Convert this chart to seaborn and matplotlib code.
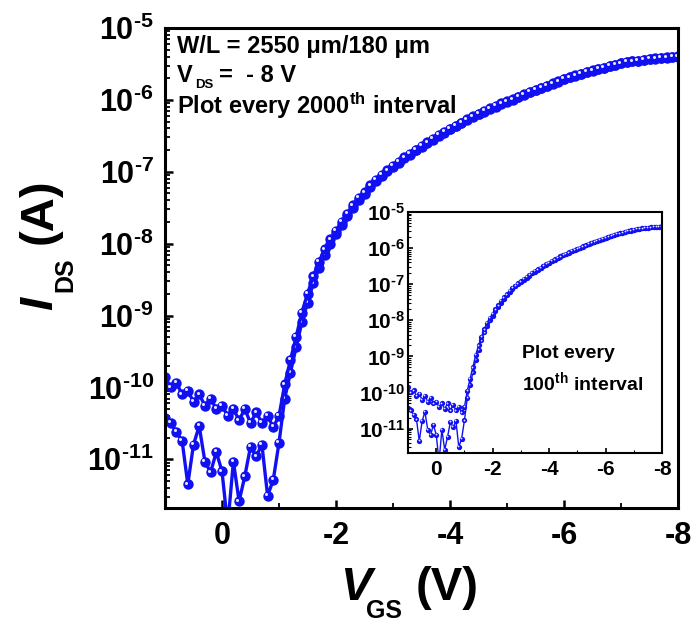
import matplotlib
matplotlib.use("Agg")
import matplotlib.pyplot as plt
from matplotlib import transforms, ticker
import numpy as np
import pandas as pd
import seaborn as sns

# ---------------- data ----------------
v_gs = [1.0, 0.9, 0.8, 0.7, 0.6, 0.5, 0.4, 0.3, 0.2, 0.1,
        0.0, -0.1, -0.2, -0.3, -0.4, -0.5, -0.6, -0.7, -0.8, -0.9,
        -1.0, -1.1, -1.2, -1.3, -1.4, -1.5, -1.6, -1.7, -1.8, -1.9,
        -2.0, -2.1, -2.2, -2.3, -2.4, -2.5, -2.6, -2.7, -2.8, -2.9,
        -3.0, -3.1, -3.2, -3.3, -3.4, -3.5, -3.6, -3.7, -3.8, -3.9,
        -4.0, -4.1, -4.2, -4.3, -4.4, -4.5, -4.6, -4.7, -4.8, -4.9,
        -5.0, -5.1, -5.2, -5.3, -5.4, -5.5, -5.6, -5.7, -5.8, -5.9,
        -6.0, -6.1, -6.2, -6.3, -6.4, -6.5, -6.6, -6.7, -6.8, -6.9,
        -7.0, -7.1, -7.2, -7.3, -7.4, -7.5, -7.6, -7.7, -7.8, -7.9,
        -8.0]

i_ds_fwd = [1.4e-10, 1.0e-10, 1.15e-10, 8.0e-11, 9.0e-11, 6.3e-11, 8.0e-11, 5.6e-11, 7.0e-11, 5.0e-11,
            5.6e-11, 4.0e-11, 5.0e-11, 3.5e-11, 5.0e-11, 3.2e-11, 4.5e-11, 3.2e-11, 4.0e-11, 2.8e-11,
            4.0e-11, 1.1e-10, 2.4e-10, 5.0e-10, 1.1e-9, 2.0e-9, 3.5e-9, 5.6e-9, 8.3e-9, 1.15e-8,
            1.5e-8, 2.0e-8, 2.6e-8, 3.4e-8, 4.3e-8, 5.2e-8, 6.5e-8, 7.8e-8, 9.1e-8, 1.05e-7,
            1.2e-7, 1.38e-7, 1.58e-7, 1.78e-7, 2.04e-7, 2.29e-7, 2.57e-7, 2.88e-7, 3.24e-7, 3.59e-7,
            3.98e-7, 4.37e-7, 4.84e-7, 5.37e-7, 5.89e-7, 6.46e-7, 7.0e-7, 7.59e-7, 8.22e-7, 8.91e-7,
            9.55e-7, 1.02e-6, 1.11e-6, 1.2e-6, 1.29e-6, 1.38e-6, 1.48e-6, 1.58e-6, 1.7e-6, 1.82e-6,
            1.95e-6, 2.07e-6, 2.19e-6, 2.32e-6, 2.45e-6, 2.57e-6, 2.69e-6, 2.82e-6, 2.95e-6, 3.09e-6,
            3.24e-6, 3.35e-6, 3.45e-6, 3.53e-6, 3.62e-6, 3.7e-6, 3.77e-6, 3.84e-6, 3.9e-6, 3.96e-6,
            4.02e-6]

i_ds_rev = [3.8e-11, 3.2e-11, 2.4e-11, 1.8e-11, 4.5e-12, 1.6e-11, 2.9e-11, 9.3e-12, 6.6e-12, 1.26e-11,
            6.8e-12, 1.2e-12, 9.3e-12, 2.6e-12, 5.8e-12, 1.5e-11, 1.1e-11, 1.6e-11, 3.1e-12, 5.2e-12,
            1.7e-11, 7.0e-11, 1.6e-10, 3.6e-10, 8.0e-10, 1.5e-9, 2.8e-9, 4.6e-9, 7.0e-9, 1.0e-8,
            1.35e-8, 1.8e-8, 2.4e-8, 3.1e-8, 4.0e-8, 4.9e-8, 6.1e-8, 7.4e-8, 8.7e-8, 1.01e-7,
            1.16e-7, 1.33e-7, 1.53e-7, 1.73e-7, 1.98e-7, 2.23e-7, 2.5e-7, 2.8e-7, 3.15e-7, 3.5e-7,
            3.88e-7, 4.27e-7, 4.73e-7, 5.25e-7, 5.76e-7, 6.32e-7, 6.86e-7, 7.44e-7, 8.06e-7, 8.75e-7,
            9.38e-7, 1.0e-6, 1.09e-6, 1.18e-6, 1.27e-6, 1.36e-6, 1.46e-6, 1.56e-6, 1.68e-6, 1.8e-6,
            1.93e-6, 2.05e-6, 2.17e-6, 2.3e-6, 2.43e-6, 2.55e-6, 2.67e-6, 2.8e-6, 2.93e-6, 3.07e-6,
            3.22e-6, 3.33e-6, 3.43e-6, 3.51e-6, 3.6e-6, 3.68e-6, 3.75e-6, 3.82e-6, 3.88e-6, 3.94e-6,
            4.0e-6]

x_ticks = [0, -2, -4, -6, -8]
x_tick_labels = ["0", "-2", "-4", "-6", "-8"]
x_minor = [-1, -3, -5, -7]
y_ticks = [1e-11, 1e-10, 1e-9, 1e-8, 1e-7, 1e-6, 1e-5]
y_tick_labels = [r"$10^{\text{-11}}$", r"$10^{\text{-10}}$", r"$10^{\text{-9}}$", r"$10^{\text{-8}}$",
                 r"$10^{\text{-7}}$", r"$10^{\text{-6}}$", r"$10^{\text{-5}}$"]

df_fwd = pd.DataFrame({"V": v_gs, "I": i_ds_fwd})
df_rev = pd.DataFrame({"V": v_gs, "I": i_ds_rev})

# ---------------- style ----------------
sns.set_style("ticks")
plt.rcParams.update({
    "font.family": ["Liberation Sans", "DejaVu Sans"],
    "font.weight": "bold",
    "mathtext.fontset": "custom",
    "mathtext.rm": "Liberation Sans:bold",
    "mathtext.bf": "Liberation Sans:bold",
    "mathtext.it": "Liberation Sans:italic:bold",
    "mathtext.default": "rm",
    "axes.unicode_minus": False,
    "text.color": "black",
    "axes.labelcolor": "black",
    "xtick.color": "black",
    "ytick.color": "black",
    "axes.edgecolor": "black",
})

BLUE = "#1010f2"
HL = "#e6e6ff"

W, H = 694, 624
fig = plt.figure(figsize=(W / 100, H / 100), dpi=100)


def px_axes(l, t, r, b):
    return [l / W, 1 - b / H, (r - l) / W, (b - t) / H]


ax = fig.add_axes(px_axes(165, 28, 678, 508))
ins = fig.add_axes(px_axes(408, 212, 662, 453))


def draw(axis, ms, lw, hl_ms, hl_off):
    axis.set_yscale("log")
    for df in (df_rev, df_fwd):
        sns.lineplot(data=df, x="V", y="I", sort=False, estimator=None, ax=axis,
                     color=BLUE, linewidth=lw, marker="o", markersize=ms,
                     markeredgewidth=0, markeredgecolor=BLUE, legend=False)
        off = transforms.ScaledTranslation(-hl_off / 72, hl_off / 72, fig.dpi_scale_trans)
        axis.plot(df["V"], df["I"], "o", ms=hl_ms, color=HL, mec="none",
                  transform=axis.transData + off, clip_on=True)
    axis.set_xlim(1, -8)
    axis.set_ylim(2.1e-12, 1e-5)
    axis.set_xlabel("")
    axis.set_ylabel("")
    axis.xaxis.set_major_locator(ticker.FixedLocator(x_ticks))
    axis.xaxis.set_major_formatter(ticker.FixedFormatter(x_tick_labels))
    axis.xaxis.set_minor_locator(ticker.FixedLocator(x_minor))
    axis.yaxis.set_major_locator(ticker.FixedLocator(y_ticks))
    axis.yaxis.set_major_formatter(ticker.FixedFormatter(y_tick_labels))
    axis.yaxis.set_minor_locator(ticker.LogLocator(base=10, subs=np.arange(2, 10), numticks=20))
    axis.yaxis.set_minor_formatter(ticker.NullFormatter())
    axis.set_facecolor("white")


draw(ax, ms=7.5, lw=2.4, hl_ms=2.2, hl_off=1.2)
draw(ins, ms=3.8, lw=1.0, hl_ms=1.3, hl_off=0.5)

ax.tick_params(which="major", direction="in", length=6, width=1.8, labelsize=22, pad=8,
               top=False, right=False)
ax.tick_params(which="minor", direction="in", length=3.5, width=1.3, top=False, right=False)
ax.tick_params(axis="x", which="major", pad=9)
for sp in ax.spines.values():
    sp.set_linewidth(2.2)
    sp.set_color("black")

ins.tick_params(which="major", direction="in", length=3.5, width=1.2, labelsize=15, pad=2,
                top=False, right=False)
ins.tick_params(which="minor", direction="in", length=2, width=0.8, top=False, right=False)
ins.tick_params(axis="x", which="major", pad=5)
for sp in ins.spines.values():
    sp.set_linewidth(1.5)
    sp.set_color("black")

for lab in ax.get_xticklabels() + ax.get_yticklabels() + ins.get_xticklabels() + ins.get_yticklabels():
    lab.set_fontweight("bold")
    lab.set_color("black")


def ftext(x, y, s, **kw):
    kw.setdefault("va", "baseline")
    kw.setdefault("ha", "left")
    kw.setdefault("fontweight", "bold")
    kw.setdefault("color", "black")
    return fig.text(x / W, 1 - y / H, s, **kw)


# annotations in main axes
ftext(177, 53, "W/L = 2550 \u03bcm/180 \u03bcm", fontsize=17)
ftext(177, 82, "V", fontsize=17)
ftext(195, 88, "DS", fontsize=9.5)
ftext(219, 82, "=  - 8 V", fontsize=17)
ftext(177, 114, r"Plot every 2000$^{\mathrm{th}}$ interval", fontsize=17)

# annotation in inset
ftext(522, 358, "Plot every", fontsize=14)
ftext(522, 390, r"100$^{\mathrm{th}}$ interval", fontsize=14)

# x axis label
ftext(340, 600, "V", fontsize=34, fontstyle="italic")
ftext(366, 618, "GS", fontsize=18)
ftext(416, 600, "(V)", fontsize=34)

# y axis label (rotated)
ftext(52, 310, "I", fontsize=34, fontstyle="italic", rotation=90, rotation_mode="anchor")
ftext(72, 292, "DS", fontsize=18, rotation=90, rotation_mode="anchor")
ftext(52, 244, "(A)", fontsize=34, rotation=90, rotation_mode="anchor")

fig.savefig("out.png", dpi=100, facecolor="white")
